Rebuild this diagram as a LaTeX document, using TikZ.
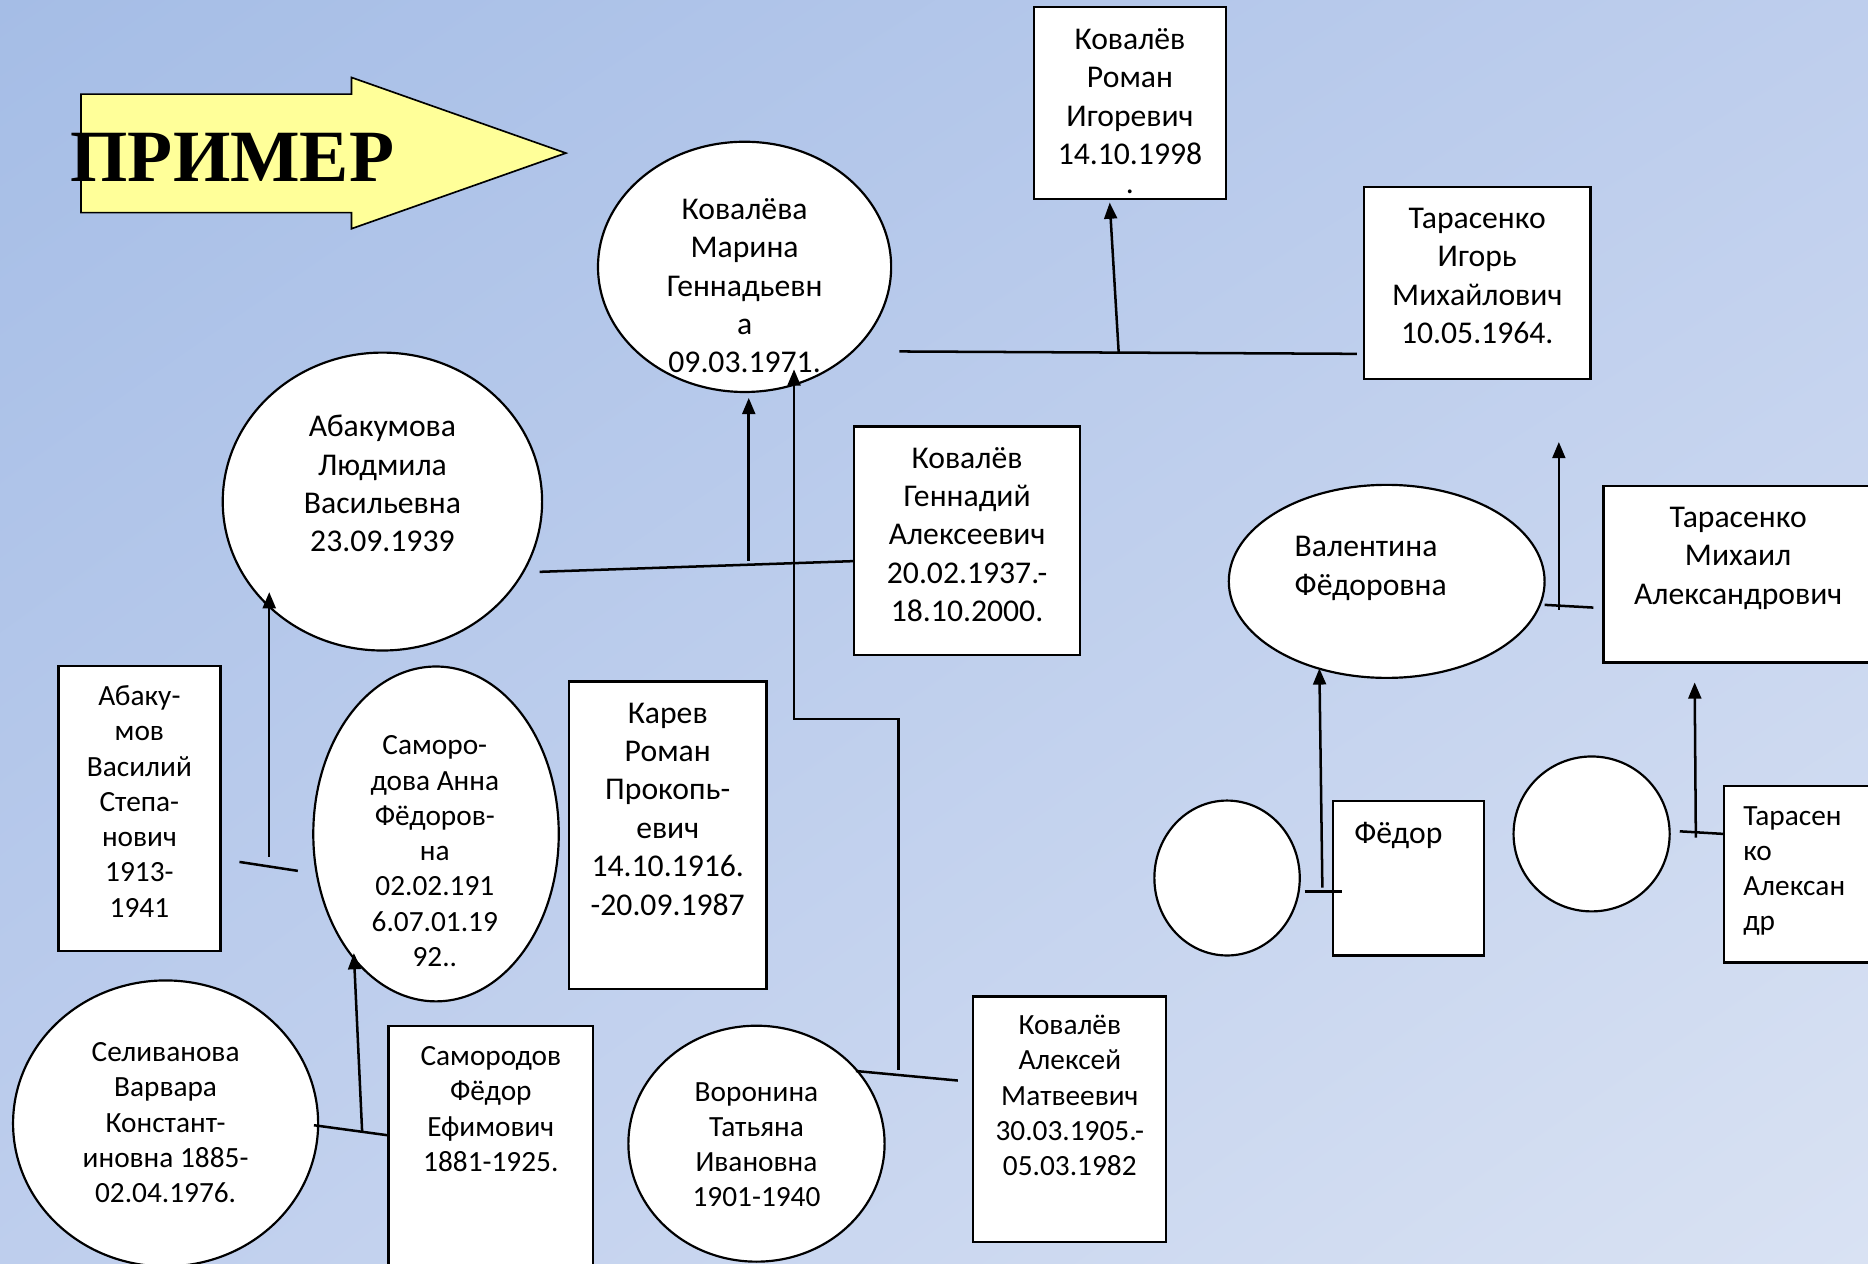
\documentclass[tikz,border=0pt]{standalone}
\usepackage{fontspec}
\setmainfont{Carlito}
\newfontfamily\titlefont{Liberation Serif}
\usetikzlibrary{arrows.meta}
\usetikzlibrary{shapes.geometric}
\usetikzlibrary{shadings}
\definecolor{bgA}{RGB}{165,189,230}
\definecolor{bgB}{RGB}{190,206,237}
\definecolor{bgC}{RGB}{217,226,243}
\definecolor{arrowfill}{RGB}{255,255,153}
\tikzset{
    tnode/.style = {inner sep=0pt, anchor=base, yshift=-0.04cm},
    bigtext/.style = {tnode, font=\fontsize{18.9}{22.9}\selectfont},
    smalltext/.style = {tnode, font=\fontsize{17.5}{21.05}\selectfont},
    person/.style = {ellipse, draw=black, fill=white, line width=1.3pt, inner sep=0pt},
    card/.style = {rectangle, draw=black, fill=white, line width=1.4pt, inner sep=0pt},
    link/.style = {line width=1.5pt}
}
\newcommand{\txtc}[1]{\begin{tabular}[t]{@{}c@{}}#1\end{tabular}}
\newcommand{\txtl}[1]{\begin{tabular}[t]{@{}l@{}}#1\end{tabular}}

\begin{document}
\begin{tikzpicture}[x=0.025cm, y=-0.025cm, >={Triangle[length=0.34cm, width=0.27cm]}]
    \clip (0,0) rectangle (1568,1061);
    \shade[upper left=bgA, upper right=bgB, lower left=bgB, lower right=bgC] (0,0) rectangle (1568,1061);
    \draw[fill=arrowfill, line width=1pt] (68,79) -- (295,79) -- (295,65) -- (475,128.5) -- (295,192) -- (295,178.5) -- (68,178.5) -- cycle;
    \node[tnode, anchor=base west, font=\titlefont\bfseries\fontsize{44}{50}\selectfont] (primer) at (59,151) {ПРИМЕР};

    \node[person, minimum width=6.15cm, minimum height=5.25cm] (marina) at (625,224) {};
    \node[person, minimum width=6.7cm, minimum height=6.25cm] (ludmila) at (321,421) {};
    \node[person, minimum width=5.15cm, minimum height=7.025cm] (anna) at (366,700) {};
    \node[person, minimum width=6.4cm, minimum height=6cm] (varvara) at (139,943) {};
    \node[person, minimum width=5.375cm, minimum height=4.95cm] (tatyana) at (635,960) {};
    \node[person, minimum width=6.625cm, minimum height=4.05cm] (valentina) at (1164,488) {};
    \node[person, minimum width=3.05cm, minimum height=3.25cm] (nonameA) at (1030,737) {};
    \node[person, minimum width=3.275cm, minimum height=3.25cm] (nonameB) at (1336,700) {};

    \node[card, minimum width=4.025cm, minimum height=4.025cm] (roman) at (948.5,86.5) {};
    \node[card, minimum width=4.75cm, minimum height=4.025cm] (igor) at (1240,237.5) {};
    \node[card, minimum width=4.75cm, minimum height=4.8cm] (gennady) at (811.75,454) {};
    \node[card, minimum width=5.65cm, minimum height=3.7cm] (mikhail) at (1459,482) {};
    \node[card, minimum width=3.4cm, minimum height=5.975cm] (vasily) at (117,678.5) {};
    \node[card, minimum width=4.15cm, minimum height=6.45cm] (karev) at (560.5,701) {};
    \node[card, minimum width=4.2875cm, minimum height=5.35cm] (fedorS) at (411.75,968) {};
    \node[card, minimum width=4.0375cm, minimum height=5.15cm] (aleksey) at (897.75,939.5) {};
    \node[card, minimum width=3.1625cm, minimum height=3.2375cm] (fedor) at (1182.25,737.25) {};
    \node[card, minimum width=3.575cm, minimum height=3.7cm] (aleksandr) at (1518.5,734) {};

    \node[bigtext] (marina-t) at (625,182.5) {\txtc{Ковалёва\\Марина\\Геннадьевн\\а\\09.03.1971.}};
    \node[bigtext] (ludmila-t) at (321,365) {\txtc{Абакумова\\Людмила\\Васильевна\\23.09.1939}};
    \node[bigtext] (roman-t) at (948.5,39.9) {\txtc{Ковалёв\\Роман\\Игоревич\\14.10.1998\\[-0.2cm].}};
    \node[bigtext] (igor-t) at (1240,190.3) {\txtc{Тарасенко\\Игорь\\Михайлович\\10.05.1964.}};
    \node[bigtext] (gennady-t) at (811.75,391.4) {\txtc{Ковалёв\\Геннадий\\Алексеевич\\20.02.1937.-\\18.10.2000.}};
    \node[bigtext] (mikhail-t) at (1459,441) {\txtc{Тарасенко\\Михаил\\Александрович}};
    \node[bigtext, anchor=base west] (valentina-t) at (1086.5,465.8) {\txtl{Валентина\\Фёдоровна}};
    \node[bigtext] (karev-t) at (560.5,605.5) {\txtc{Карев\\Роман\\Прокопь-\\евич\\14.10.1916.\\-20.09.1987}};
    \node[bigtext, anchor=base west] (fedor-t) at (1136.5,706.3) {Фёдор};
    \node[smalltext] (vasily-t) at (117,590.7) {\txtc{Абаку-\\мов\\Василий\\Степа-\\нович\\1913-\\1941}};
    \node[smalltext] (anna-t) at (365,632) {\txtc{Саморо-\\дова Анна\\Фёдоров-\\на\\02.02.191\\6.07.01.19\\92..}};
    \node[smalltext] (varvara-t) at (139,889.5) {\txtc{Селиванова\\Варвара\\Констант-\\иновна 1885-\\02.04.1976.}};
    \node[smalltext] (fedorS-t) at (412,892.8) {\txtc{Самородов\\Фёдор\\Ефимович\\1881-1925.}};
    \node[smalltext] (tatyana-t) at (635,922.6) {\txtc{Воронина\\Татьяна\\Ивановна\\1901-1940}};
    \node[smalltext] (aleksey-t) at (898,866.8) {\txtc{Ковалёв\\Алексей\\Матвеевич\\30.03.1905.-\\05.03.1982}};
    \node[smalltext, anchor=base west] (aleksandr-t) at (1463,691) {\txtl{Тарасен\\ко\\Алексан\\др}};

    \coordinate (marA) at (755,295);
    \coordinate (marB) at (1139,297);
    \coordinate (marC) at (939,295.5);
    \coordinate (romanTip) at (931.5,170);
    \coordinate (parA) at (453,480);
    \coordinate (parB) at (716.5,471);
    \coordinate (parC) at (628.5,470.5);
    \coordinate (marinaTip) at (628.5,334);
    \coordinate (grA) at (754,898);
    \coordinate (grB) at (754,603.5);
    \coordinate (grC) at (666.5,603.5);
    \coordinate (marinaTip2) at (666.5,310);
    \coordinate (grD) at (718.5,899);
    \coordinate (grE) at (804,907);
    \coordinate (abA) at (201,723.5);
    \coordinate (abB) at (250,731);
    \coordinate (abC) at (226,719);
    \coordinate (ludmilaTip) at (226,497);
    \coordinate (sfA) at (263.5,944.5);
    \coordinate (sfB) at (326,953);
    \coordinate (sfC) at (304,950.6);
    \coordinate (annaTip) at (297,800);
    \coordinate (tmA) at (1296.5,507.7);
    \coordinate (tmB) at (1337.5,510);
    \coordinate (tmC) at (1308.5,512);
    \coordinate (igorTip) at (1308.5,371);
    \coordinate (fdA) at (1095,748.5);
    \coordinate (fdB) at (1126.5,748.5);
    \coordinate (fdC) at (1110,745);
    \coordinate (valentinaTip) at (1107.5,561);
    \coordinate (taA) at (1410,697.8);
    \coordinate (taB) at (1447,700);
    \coordinate (taC) at (1423.5,703);
    \coordinate (mikhailTip) at (1422.5,572.8);

    \draw[link] (marA) -- (marB);
    \draw[link, ->] (marC) -- (romanTip);
    \draw[link] (parA) -- (parB);
    \draw[link, ->] (parC) -- (marinaTip);
    \draw[link, ->] (grA) -- (grB) -- (grC) -- (marinaTip2);
    \draw[link] (grD) -- (grE);
    \draw[link] (abA) -- (abB);
    \draw[link, ->] (abC) -- (ludmilaTip);
    \draw[link] (sfA) -- (sfB);
    \draw[link, ->] (sfC) -- (annaTip);
    \draw[link] (tmA) -- (tmB);
    \draw[link, ->] (tmC) -- (igorTip);
    \draw[link] (fdA) -- (fdB);
    \draw[link, ->] (fdC) -- (valentinaTip);
    \draw[link] (taA) -- (taB);
    \draw[link, ->] (taC) -- (mikhailTip);
\end{tikzpicture}
\end{document}
